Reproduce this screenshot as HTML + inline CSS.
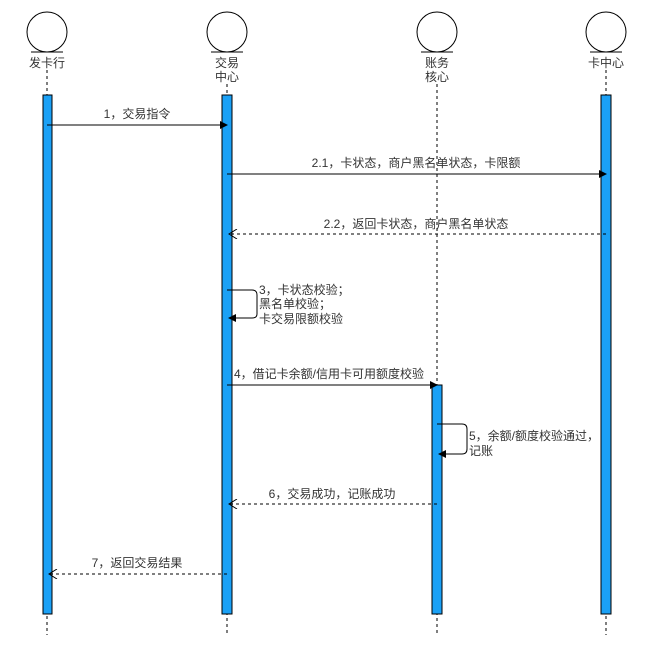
<!DOCTYPE html>
<html><head><meta charset="utf-8"><style>
html,body{margin:0;padding:0;background:#fff;}
svg text{font-family:"Liberation Sans","Noto Sans CJK SC",sans-serif;font-size:12px;fill:#333;}
</style></head><body>
<svg width="655" height="644" viewBox="0 0 655 644" xmlns="http://www.w3.org/2000/svg">
<defs>
<marker id="fa" markerWidth="8" markerHeight="8" refX="7" refY="4" orient="auto" markerUnits="userSpaceOnUse"><path d="M0,0 L8,4 L0,8 Z" fill="#000"/></marker>
<marker id="oa" markerWidth="10" markerHeight="10" refX="9" refY="5" orient="auto" markerUnits="userSpaceOnUse"><path d="M1,0 L9,5 L1,10" fill="none" stroke="#000"/></marker>
</defs>
<g stroke="#000" fill="#fff" stroke-width="1">
<ellipse cx="47" cy="32" rx="20" ry="20"/><line x1="31" y1="52" x2="63" y2="52"/>
<ellipse cx="227" cy="32" rx="20" ry="20"/><line x1="211" y1="52" x2="243" y2="52"/>
<ellipse cx="437" cy="32" rx="20" ry="20"/><line x1="421" y1="52" x2="453" y2="52"/>
<ellipse cx="606" cy="32" rx="20" ry="20"/><line x1="590" y1="52" x2="622" y2="52"/>
</g>
<g stroke="#000" stroke-dasharray="3,3">
<line x1="47" y1="70" x2="47" y2="635"/>
<line x1="227" y1="84" x2="227" y2="635"/>
<line x1="437" y1="84" x2="437" y2="635"/>
<line x1="606" y1="70" x2="606" y2="635"/>
</g>
<text x="47" y="67" text-anchor="middle">发卡行</text>
<text x="227" y="67" text-anchor="middle">交易</text><text x="227" y="81" text-anchor="middle">中心</text>
<text x="437" y="67" text-anchor="middle">账务</text><text x="437" y="81" text-anchor="middle">核心</text>
<text x="606" y="67" text-anchor="middle">卡中心</text>
<g fill="#1ba1f6" stroke="#000">
<rect x="43" y="95" width="9" height="519"/>
<rect x="222" y="95" width="10" height="519"/>
<rect x="432" y="385" width="10" height="229"/>
<rect x="601" y="95" width="10" height="519"/>
</g>
<g stroke="#000" fill="none">
<line x1="47" y1="125" x2="227" y2="125" marker-end="url(#fa)"/>
<line x1="227" y1="174" x2="606" y2="174" marker-end="url(#fa)"/>
<line x1="606" y1="234" x2="229" y2="234" stroke-dasharray="3,3" marker-end="url(#oa)"/>
<path d="M227,290 H252 Q257,290 257,295 V314 Q257,318 252,318 H229" marker-end="url(#fa)"/>
<line x1="227" y1="385" x2="437" y2="385" marker-end="url(#fa)"/>
<path d="M437,424 H462 Q467,424 467,429 V449 Q467,454 462,454 H439" marker-end="url(#fa)"/>
<line x1="437" y1="504" x2="229" y2="504" stroke-dasharray="3,3" marker-end="url(#oa)"/>
<line x1="227" y1="574" x2="49" y2="574" stroke-dasharray="3,3" marker-end="url(#oa)"/>
</g>
<text x="137" y="118" text-anchor="middle">1，交易指令</text>
<text x="416" y="167" text-anchor="middle">2.1，卡状态，商户黑名单状态，卡限额</text>
<text x="416" y="228" text-anchor="middle">2.2，返回卡状态，商户黑名单状态</text>
<text x="259" y="294">3，卡状态校验；</text>
<text x="259" y="308">黑名单校验；</text>
<text x="259" y="323">卡交易限额校验</text>
<text x="234" y="378">4，借记卡余额/信用卡可用额度校验</text>
<text x="469" y="440">5，余额/额度校验通过，</text>
<text x="469" y="455">记账</text>
<text x="332" y="498" text-anchor="middle">6，交易成功，记账成功</text>
<text x="137" y="567" text-anchor="middle">7，返回交易结果</text>
</svg>
</body></html>
